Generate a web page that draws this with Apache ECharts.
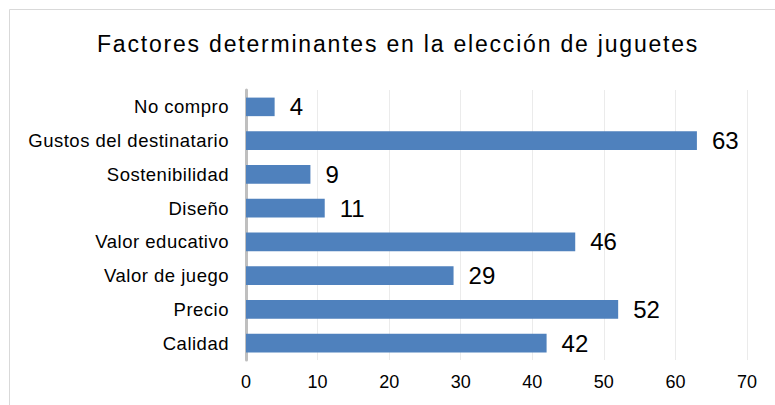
<!DOCTYPE html>
<html>
<head>
<meta charset="utf-8">
<script src="https://cdn.jsdelivr.net/npm/echarts@6/dist/echarts.min.js"></script>
<style>
  html, body { margin: 0; padding: 0; background: #fff; }
  #chart { width: 775px; height: 405px; }
  /* wider tracking for the title and the category names */
  #chart svg text[style*="23px"] { letter-spacing: 1.8px; }
  #chart svg text[style*="18.5px"] { letter-spacing: 0.5px; }
</style>
</head>
<body>
<div id="chart"></div>
<script>
// Factors that decide which toys people buy (number of answers)
const titleText = 'Factores determinantes en la elección de juguetes';
const categories = ['Calidad', 'Precio', 'Valor de juego', 'Valor educativo', 'Diseño', 'Sostenibilidad', 'Gustos del destinatario', 'No compro'];
const values = [42, 52, 29, 46, 11, 9, 63, 4];
const xTicks = [0, 10, 20, 30, 40, 50, 60, 70];

const chart = echarts.init(document.getElementById('chart'), null, { renderer: 'svg' });
chart.setOption({
  animation: false,
  backgroundColor: '#ffffff',
  title: {
    text: titleText,
    left: 97,
    top: 32,
    padding: 0,
    textStyle: { fontFamily: 'Liberation Sans', fontSize: 23, fontWeight: 'normal', color: '#000000' }
  },
  graphic: [{
    type: 'rect',
    silent: true,
    shape: { x: 9.5, y: 9.5, width: 900, height: 600 },
    style: { fill: 'none', stroke: '#d9d9d9', lineWidth: 1 }
  }],
  grid: { left: 246, right: 28, top: 90, bottom: 45, containLabel: false },
  xAxis: {
    type: 'value',
    min: xTicks[0],
    max: xTicks[xTicks.length - 1],
    interval: 10,
    axisLine: { show: false },
    axisTick: { show: false },
    splitLine: { show: true, lineStyle: { color: '#ebebeb', width: 1 } },
    axisLabel: { margin: 13, fontFamily: 'Liberation Sans', fontSize: 18, color: '#000000' }
  },
  yAxis: {
    type: 'category',
    data: categories,
    axisLine: { show: true, lineStyle: { color: '#bfbfbf', width: 3 } },
    axisTick: { show: false },
    axisLabel: { margin: 17, fontFamily: 'Liberation Sans', fontSize: 18.5, color: '#000000' }
  },
  series: [{
    type: 'bar',
    data: values,
    barWidth: '55%',
    itemStyle: { color: '#4f81bd' },
    label: {
      show: true,
      position: 'right',
      distance: 15,
      fontFamily: 'Liberation Sans',
      fontSize: 24,
      color: '#000000'
    }
  }]
});
</script>
</body>
</html>
